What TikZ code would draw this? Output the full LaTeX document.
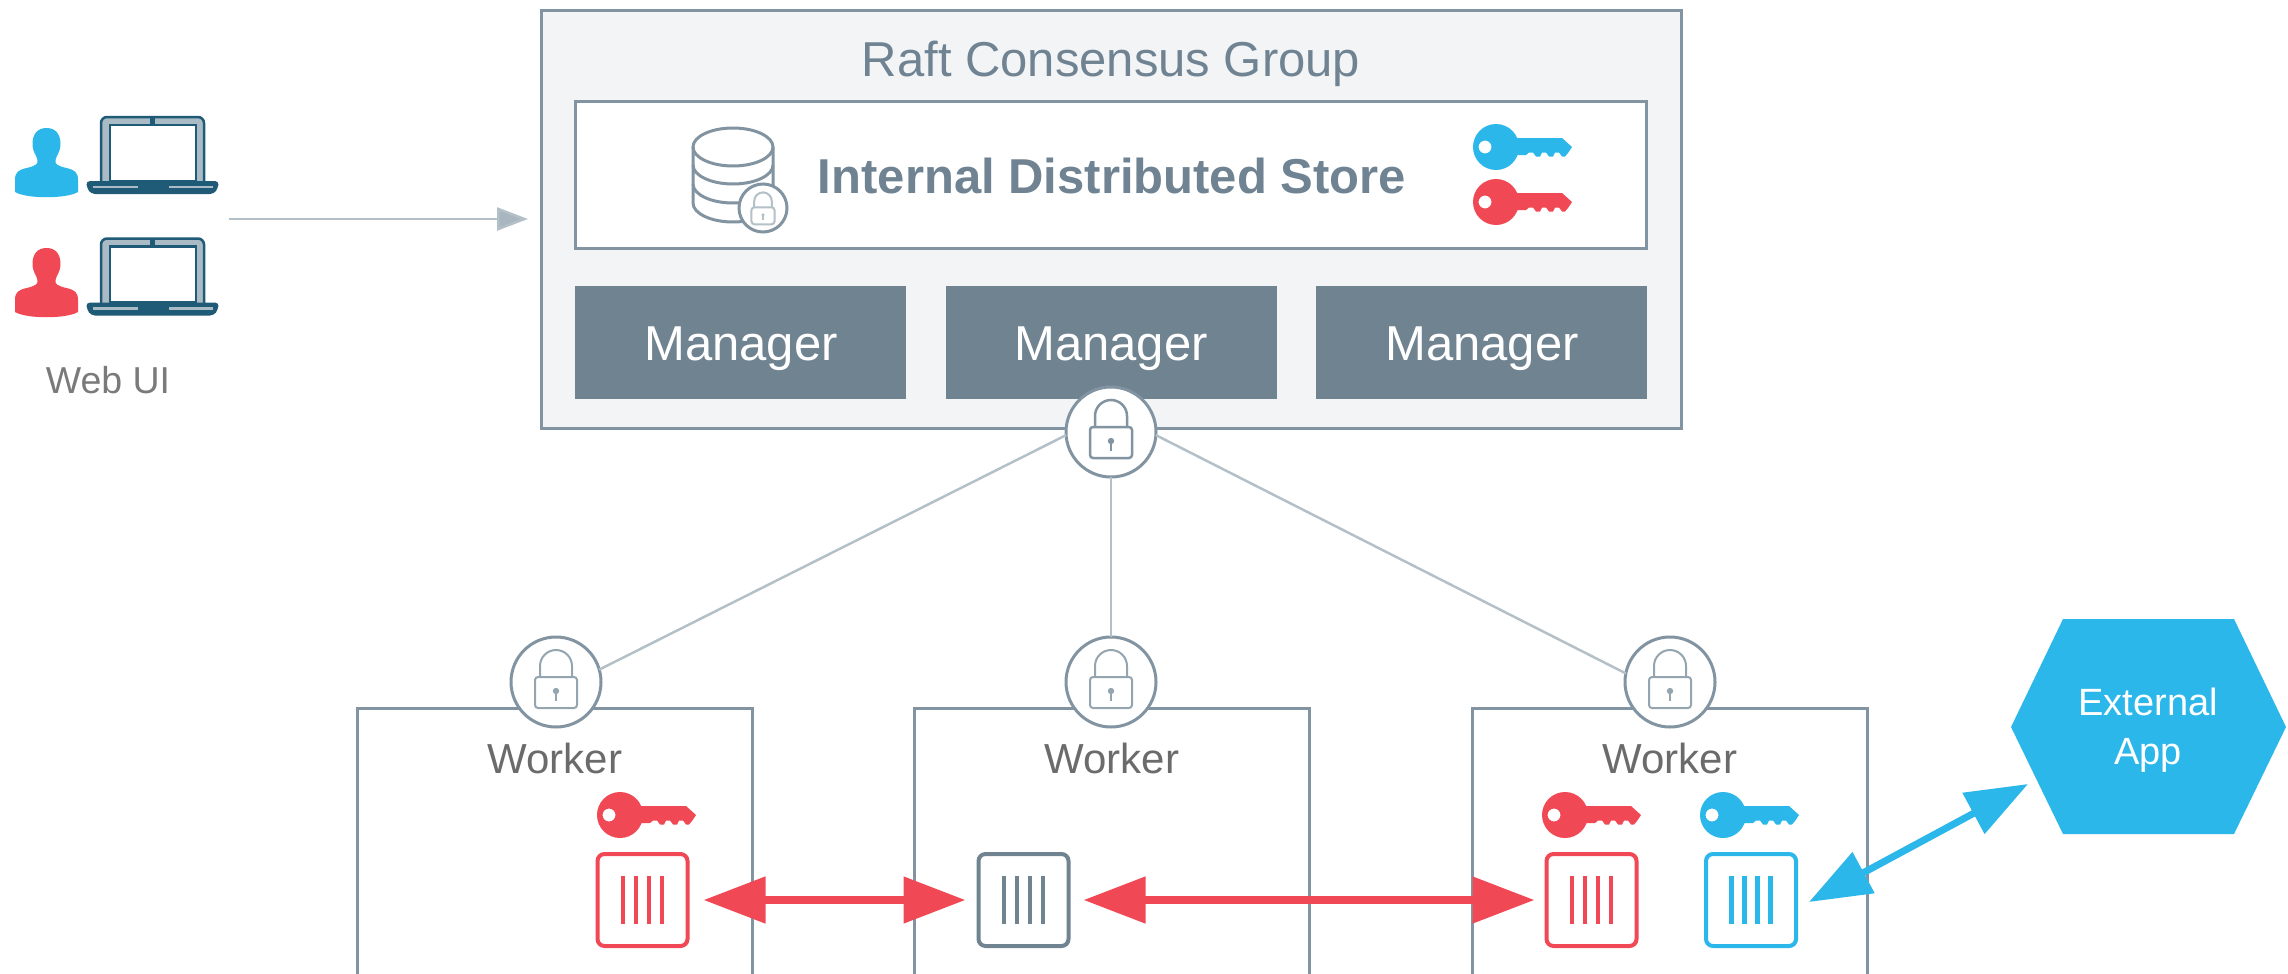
\documentclass[tikz,border=0pt]{standalone}
\usepackage{fontspec}
\setmainfont{Liberation Sans}
\usetikzlibrary{arrows.meta}
\definecolor{cred}{HTML}{F04854}
\definecolor{cblue}{HTML}{2BB7EA}
\definecolor{cframe}{HTML}{8294A1}
\definecolor{cslate}{HTML}{708391}
\definecolor{cpale}{HTML}{F3F4F6}
\definecolor{cline}{HTML}{B4C0C8}
\definecolor{ctip}{HTML}{A9B6BF}
\definecolor{cdark}{HTML}{1F5A76}
\definecolor{cband}{HTML}{A9BBC5}
\definecolor{cgreytext}{HTML}{6B6B6B}
\definecolor{cwebtext}{HTML}{7A7A7A}
\definecolor{cbluetext}{HTML}{6F8392}
\definecolor{clock}{HTML}{94A5B0}
\tikzset{
  every node/.style={inner sep=0pt,outer sep=0pt,align=center},
  mainbox/.style={draw=cframe,line width=3pt,fill=cpale,minimum width=1140pt,minimum height=417pt},
  storebox/.style={draw=cframe,line width=3pt,fill=white,minimum width=1071pt,minimum height=147pt},
  managerbox/.style={fill=cslate,minimum width=331pt,minimum height=113pt},
  managerlabel/.style={text=white,font=\fontsize{49}{54}\selectfont},
  workerbox/.style={draw=cframe,line width=3pt,fill=white,minimum width=395pt,minimum height=290pt,anchor=north},
  lockring/.style={circle,draw=cframe,line width=3pt,fill=white,minimum size=90pt},
  workerlabel/.style={text=cgreytext,font=\fontsize{42}{46}\selectfont},
  cbox/.style={rounded corners=7pt,line width=4pt,fill=white,minimum width=90pt,minimum height=92pt},
  thinlink/.style={draw=cline,line width=2.5pt},
  webarrow/.style={draw=cline,line width=2.5pt,-{Triangle[length=31pt,width=23pt,fill=ctip]},shorten >=13pt},
  redarrow/.style={draw=cred,line width=8pt,{Triangle[length=62pt,width=45pt]}-{Triangle[length=62pt,width=45pt]}},
  bluearrow/.style={draw=cblue,line width=7pt,{Triangle[length=62pt,width=45pt]}-{Triangle[length=62pt,width=45pt]}},
  pics/person/.style={code={
    \fill (0,0) .. controls (9,0) and (14,6) .. (14,16) .. controls (14,24) and (10,27) .. (9,32)
      .. controls (8,36) and (11,38) .. (20,40) .. controls (28,42) and (31.5,44) .. (31.5,52) -- (31.5,64)
      .. controls (20,71) and (-20,71) .. (-31.5,64) -- (-31.5,52) .. controls (-31.5,44) and (-28,42) .. (-20,40)
      .. controls (-11,38) and (-8,36) .. (-9,32) .. controls (-10,27) and (-14,24) .. (-14,16)
      .. controls (-14,6) and (-9,0) .. (0,0) -- cycle;
  }},
  pics/laptop/.style={code={
    \draw[draw=cdark,fill=cband,line width=2.5pt,rounded corners=6pt] (0,67) -- (0,0) -- (103,0) -- (103,67);
    \draw[draw=cdark,fill=white,line width=2.5pt] (9,8) rectangle (95,64);
    \fill[cdark] (49,0) rectangle (54,8);
    \fill[cdark,rounded corners=4pt] (-15,64) -- (118,64) -- (117,71) -- (113,77) -- (-10,77) -- (-14,71) -- cycle;
    \draw[cband,line width=2.5pt] (-8,70) -- (37,70) (68,70) -- (112,70);
  }},
  pics/keybody/.style={code={
    \fill (15,-9) -- (66,-9) -- (76,0) -- (72,6) -- (69,9.5) -- (66,9.5) -- (63,5.5) -- (59,5.5)
      -- (57,9.5) -- (53,9.5) -- (50,5.5) -- (46,5.5) -- (44,9.5) -- (40,9.5) -- (37,5.5) -- (33,5.5) -- (30,8) -- (15,8) -- cycle;
    \fill[even odd rule] (0,0) circle (23) (-11,0) circle (6.5);
  }},
  pics/padlock/.style={code={
    \draw (-16,-5) -- (-16,-16) arc (180:360:16) -- (16,-5);
    \draw[rounded corners=3pt] (-21,-5) rectangle (21,26);
    \fill (0,9) circle (3.2);
    \draw[line width=1.8pt] (0,9) -- (0,19);
  }},
}
\begin{document}
\begin{tikzpicture}[x=1pt,y=-1pt]
\useasboundingbox (0,0) rectangle (2288,974);
\clip (0,0) rectangle (2288,974);

% consensus group
\node[mainbox] (main) at (1111,219.5) {};
\node[text=cbluetext,font=\fontsize{49}{54}\selectfont] (title) at (1111,64) {Raft Consensus Group};
\node[storebox] (store) at (1110.5,175) {};
\node[text=cbluetext,font=\bfseries\fontsize{49}{54}\selectfont] (storelabel) at (1112,176) {Internal Distributed Store};
\node[managerbox] (m1) at (740.5,342.5) {};
\node[managerbox] (m2) at (1111,342.5) {};
\node[managerbox] (m3) at (1481.5,342.5) {};
\node[managerlabel] (m1l) at (741,349) {Manager};
\node[managerlabel] (m2l) at (1111,349) {Manager};
\node[managerlabel] (m3l) at (1482,349) {Manager};

% database icon
\begin{scope}[draw=cframe,line width=3pt]
  \draw (693,147) -- (693,203) arc (180:0:40 and 19) -- (773,147);
  \draw (733,147) ellipse (40 and 19);
  \draw (693,165) arc (180:0:40 and 19);
  \draw (693,184) arc (180:0:40 and 19);
\end{scope}
\node[circle,draw=cframe,line width=3pt,fill=white,minimum size=48pt] (dblock) at (763,208) {};
\pic[scale=.55,draw=cline,fill=cline,line width=2pt] at (763,210) {padlock};

% keys
\pic[fill=cblue] at (1496,147) {keybody};
\pic[fill=cred] at (1496,202) {keybody};

% web UI
\pic[fill=cblue] at (46.5,128) {person};
\pic[fill=cred] at (46.5,248) {person};
\pic at (101,117) {laptop};
\pic at (101,238.5) {laptop};
\node[text=cwebtext,font=\fontsize{37.5}{42}\selectfont] (webui) at (108,380) {Web UI};
\coordinate (webstart) at (229,219);
\draw[webarrow] (webstart) -- (webstart -| main.west);

% workers
\node[workerbox] (w1) at (554.5,708) {};
\node[workerbox] (w2) at (1112,708) {};
\node[workerbox] (w3) at (1669.5,708) {};
\node[workerlabel] (w1l) at (555,758) {Worker};
\node[workerlabel] (w2l) at (1112,758) {Worker};
\node[workerlabel] (w3l) at (1670,758) {Worker};

% locks
\node[lockring] (ltop) at (1111,432) {};
\node[lockring] (l1) at (556,682) {};
\node[lockring] (l2) at (1111,682) {};
\node[lockring] (l3) at (1670,682) {};
\draw[thinlink] (ltop.184) -- (l1.16);
\draw[thinlink] (ltop.south) -- (l2.north);
\draw[thinlink] (ltop.356) -- (l3.169);
\pic[draw=cframe,fill=cframe,line width=2.5pt] at (1111,432) {padlock};
\foreach \lx in {556,1111,1670}
  \pic[draw=clock,fill=clock,line width=2pt] at (\lx,682) {padlock};

% worker keys
\pic[fill=cred] at (620,815) {keybody};
\pic[fill=cred] at (1565,815) {keybody};
\pic[fill=cblue] at (1723,815) {keybody};

% containers
\node[cbox,draw=cred] (c1) at (642.5,900) {};
\node[cbox,draw=cslate] (c2) at (1023.5,900) {};
\node[cbox,draw=cred] (c3) at (1591.5,900) {};
\node[cbox,draw=cblue] (c4) at (1751,900) {};
\foreach \n/\col in {c1/cred,c2/cslate,c3/cred,c4/cblue}
  \foreach \d in {-19.5,-6.5,6.5,19.5}
    \draw[\col,line width=4.5pt] ([xshift=\d pt,yshift=24pt]\n.center) -- ([xshift=\d pt,yshift=-24pt]\n.center);

% external app
\path[fill=cblue] (2011,727) -- (2063,619) -- (2234,619) -- (2286,727) -- (2234,834) -- (2063,834) -- cycle;
\node[text=white,font=\fontsize{38}{49}\selectfont] (extapp) at (2148,730) {External\\App};

% connectors between containers
\draw[redarrow,shorten <=16pt,shorten >=13pt] (c1.east) -- (c2.west);
\draw[redarrow,shorten <=15pt,shorten >=12pt] (c2.east) -- (c3.west);
\coordinate (bluetip) at (1809,902);
\coordinate (hextip) at (2028,784);
\draw[bluearrow] (bluetip) -- (hextip);
\end{tikzpicture}
\end{document}
